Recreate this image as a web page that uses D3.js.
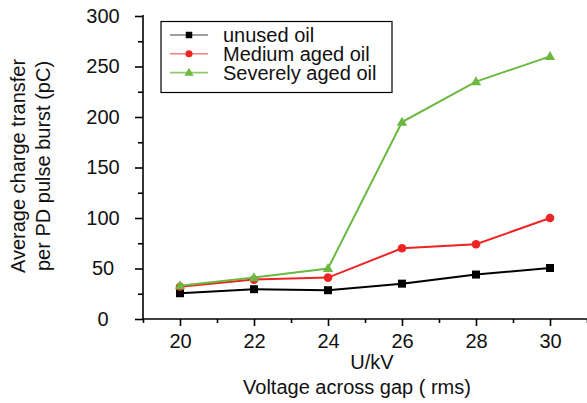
<!DOCTYPE html>
<html>
<head>
<meta charset="utf-8">
<script src="https://cdn.jsdelivr.net/npm/d3@7"></script>
<style>
  html, body { margin: 0; padding: 0; background: #fff; }
  svg { display: block; font-family: "Liberation Sans", Arial, sans-serif; }
</style>
</head>
<body>
<svg id="chart" width="587" height="403"></svg>
<script>
// Voltage steps (kV) and average charge per burst (pC) for each oil condition
const voltages = [20, 22, 24, 26, 28, 30];
const unusedOil = [25.5, 29.5, 28.5, 35, 44, 50.5];
const mediumAgedOil = [32, 39, 41, 70, 74, 100];
const severelyAgedOil = [33, 41, 50, 195, 235, 260];
const seriesNames = ["unused oil", "Medium aged oil", "Severely aged oil"];
const yTicks = [0, 50, 100, 150, 200, 250, 300];
const xTicks = [20, 22, 24, 26, 28, 30];

const series = [
  { name: seriesNames[0], values: unusedOil, color: "#000000", legendColor: "#7f7f7f", marker: "square" },
  { name: seriesNames[1], values: mediumAgedOil, color: "#ee2424", legendColor: "#f28080", marker: "circle" },
  { name: seriesNames[2], values: severelyAgedOil, color: "#6cb842", legendColor: "#8fcb6e", marker: "triangle" }
];

const svg = d3.select("#chart");
const x0 = 143, x1 = 587, yTop = 16, yBot = 319;

const x = d3.scaleLinear().domain([19, 31]).range([x0, x1]);
const y = d3.scaleLinear().domain([0, 300]).range([yBot, yTop]);

const fontSize = 20;
const textColor = "#111";

// Y axis: major ticks every 50, minor every 25; labels centred in a column left of the axis
const yAxis = svg.append("g").attr("transform", `translate(${x0},0)`);
yAxis.append("g")
  .call(d3.axisLeft(y).tickValues(d3.range(25, 300, 50)).tickSize(5).tickFormat(""))
  .call(g => g.select(".domain").remove());
yAxis.append("g")
  .call(d3.axisLeft(y).tickValues(yTicks).tickSize(8))
  .call(g => g.select(".domain").attr("d", `M0,${yBot}V${yTop - 1}`))
  .call(g => g.selectAll(".tick text").attr("x", -40).attr("text-anchor", "middle"));
yAxis.selectAll("line, path").attr("stroke", "#000").attr("stroke-width", 1.6);
yAxis.selectAll("text").attr("font-size", fontSize).attr("fill", textColor)
  .attr("font-family", "Liberation Sans, Arial, sans-serif");

// X axis: major ticks every 2 kV, minor ticks between
const xAxis = svg.append("g").attr("transform", `translate(0,${yBot})`);
xAxis.append("g")
  .call(d3.axisBottom(x).tickValues(d3.range(19, 32, 2)).tickSize(4).tickFormat(""))
  .call(g => g.select(".domain").remove());
xAxis.append("g")
  .call(d3.axisBottom(x).tickValues(xTicks).tickSize(7).tickPadding(8))
  .call(g => g.select(".domain").attr("d", `M${x0},0H${x1}`));
xAxis.selectAll("line, path").attr("stroke", "#000").attr("stroke-width", 1.6);
xAxis.selectAll("text").attr("font-size", fontSize).attr("fill", textColor)
  .attr("font-family", "Liberation Sans, Arial, sans-serif");

// Axis titles
svg.append("text").attr("x", 372).attr("y", 369).attr("text-anchor", "middle")
  .attr("font-size", fontSize).attr("fill", textColor).text("U/kV");
svg.append("text").attr("x", 357).attr("y", 394).attr("text-anchor", "middle")
  .attr("font-size", fontSize).attr("fill", textColor).text("Voltage across gap ( rms)");
const yt = svg.append("text").attr("transform", "translate(0,166) rotate(-90)")
  .attr("text-anchor", "middle").attr("font-size", fontSize).attr("fill", textColor);
yt.append("tspan").attr("x", 0).attr("y", 25).text("Average charge transfer");
yt.append("tspan").attr("x", 0).attr("y", 50).text("per PD pulse burst (pC)");

// Marker drawing helper
function drawMarker(g, type, cx, cy, color, size) {
  if (type === "square") {
    g.append("rect").attr("x", cx - size / 2).attr("y", cy - size / 2)
      .attr("width", size).attr("height", size).attr("fill", color);
  } else if (type === "circle") {
    g.append("circle").attr("cx", cx).attr("cy", cy).attr("r", size / 2 + 0.3).attr("fill", color);
  } else {
    const w = size * 1.15, h = size;
    g.append("path")
      .attr("d", `M${cx},${cy - h * 0.6}L${cx + w / 2},${cy + h * 0.4}L${cx - w / 2},${cy + h * 0.4}Z`)
      .attr("fill", color);
  }
}

// Series lines and markers
const line = d3.line().x(d => x(d[0])).y(d => y(d[1]));
series.forEach(s => {
  const pts = voltages.map((v, i) => [v, s.values[i]]);
  const g = svg.append("g");
  g.append("path").datum(pts).attr("d", line)
    .attr("fill", "none").attr("stroke", s.color).attr("stroke-width", 2);
  pts.forEach(p => drawMarker(g, s.marker, x(p[0]), y(p[1]), s.color, s.marker === "triangle" ? 9 : 8));
});

// Legend
const lg = svg.append("g");
lg.append("rect").attr("x", 161).attr("y", 21.5).attr("width", 231).attr("height", 71)
  .attr("fill", "#fff").attr("stroke", "#000").attr("stroke-width", 1.2);
series.forEach((s, i) => {
  const cy = 35 + i * 18.8;
  lg.append("line").attr("x1", 170).attr("x2", 208).attr("y1", cy).attr("y2", cy)
    .attr("stroke", s.legendColor).attr("stroke-width", 1.6);
  drawMarker(lg, s.marker, 189, cy, s.color, s.marker === "triangle" ? 8 : 6.5);
  lg.append("text").attr("x", 223).attr("y", cy + 7).attr("font-size", fontSize)
    .attr("fill", textColor).text(s.name);
});
</script>
</body>
</html>
